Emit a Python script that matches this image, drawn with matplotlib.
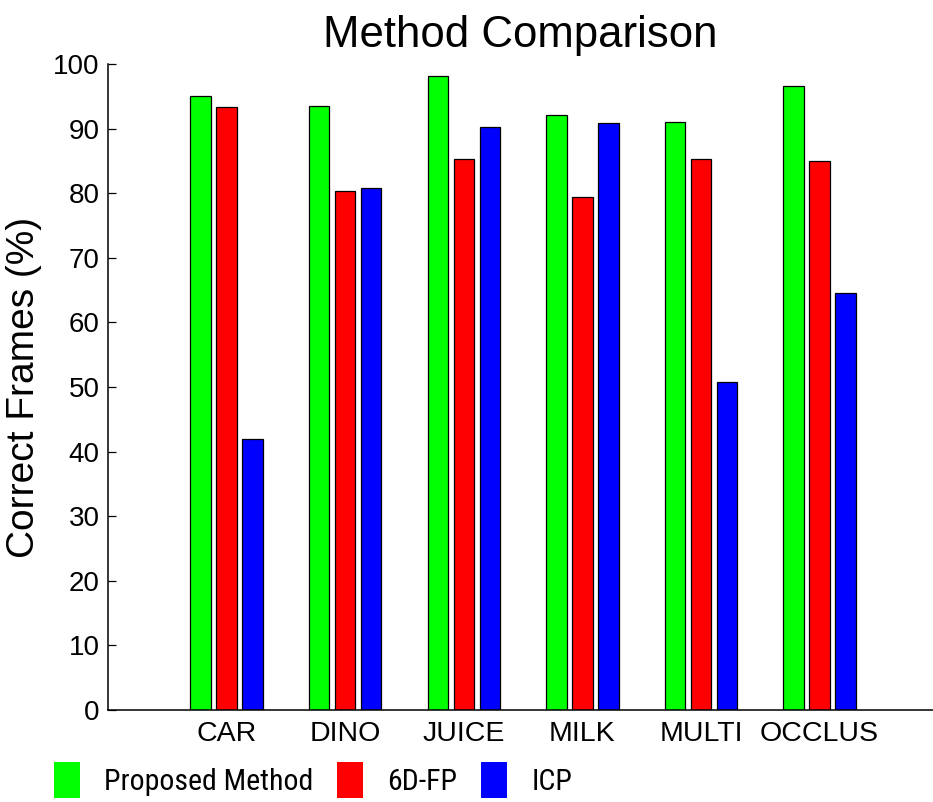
import matplotlib
matplotlib.use("Agg")
import matplotlib.pyplot as plt
import numpy as np

categories = ["CAR", "DINO", "JUICE", "MILK", "MULTI", "OCCLUS"]
series_names = ["Proposed Method", "6D-FP", "ICP"]
proposed = [95.0, 93.5, 98.1, 92.1, 91.0, 96.6]
fp6d = [93.3, 80.3, 85.3, 79.4, 85.3, 85.0]
icp = [41.9, 80.8, 90.2, 90.9, 50.8, 64.6]
yticks = list(range(0, 101, 10))

colors = ["#00ff00", "#ff0000", "#0000ff"]

plt.rcParams["font.family"] = ["Liberation Sans", "DejaVu Sans"]

W, H = 933, 802
fig = plt.figure(figsize=(W / 100, H / 100), dpi=100)
ax = fig.add_axes([108 / W, (H - 710) / H, (W - 108) / W, 646 / H])

x = np.arange(1, len(categories) + 1)
bw = 0.173
offs = [-0.219, 0.0, 0.219]
handles = []
for vals, off, col, name in zip([proposed, fp6d, icp], offs, colors, series_names):
    b = ax.bar(x + off, vals, width=bw, color=col, edgecolor="black",
               linewidth=0.9, label=name)
    handles.append(b)

ax.set_xlim(0, (W - 108) / 118.6)
ax.set_ylim(0, 100)
ax.set_yticks(yticks)
ax.set_xticks(x)
ax.set_xticklabels(categories, fontsize=20.5)
ax.tick_params(axis="y", direction="in", length=5.8, width=0.9,
               labelsize=20, pad=6)
ax.tick_params(axis="x", length=0, pad=8)
for s in ["top", "right"]:
    ax.spines[s].set_visible(False)
for s in ["left", "bottom"]:
    ax.spines[s].set_linewidth(1.1)

ax.set_ylabel("Correct Frames (%)", fontsize=28, labelpad=8)
ax.set_title("Method Comparison", fontsize=31.5, pad=12)

leg_pt = 21.5
F = leg_pt * 100 / 72  # legend font size in px
leg = fig.legend(handles=handles, labels=series_names, loc="center left",
                 bbox_to_anchor=(54 / W, 1 - 780 / H), ncol=3, frameon=False,
                 prop={"family": ["Noto Sans ExtraCondensed",
                                  "Noto Sans Condensed", "Roboto Condensed",
                                  "Liberation Sans"],
                       "size": leg_pt},
                 handlelength=26 / F, handleheight=43 / F,
                 handletextpad=24 / F, columnspacing=24 / F,
                 borderpad=0, borderaxespad=0)
for p in leg.get_patches():
    p.set_edgecolor("none")

fig.savefig("out.png", dpi=100)
